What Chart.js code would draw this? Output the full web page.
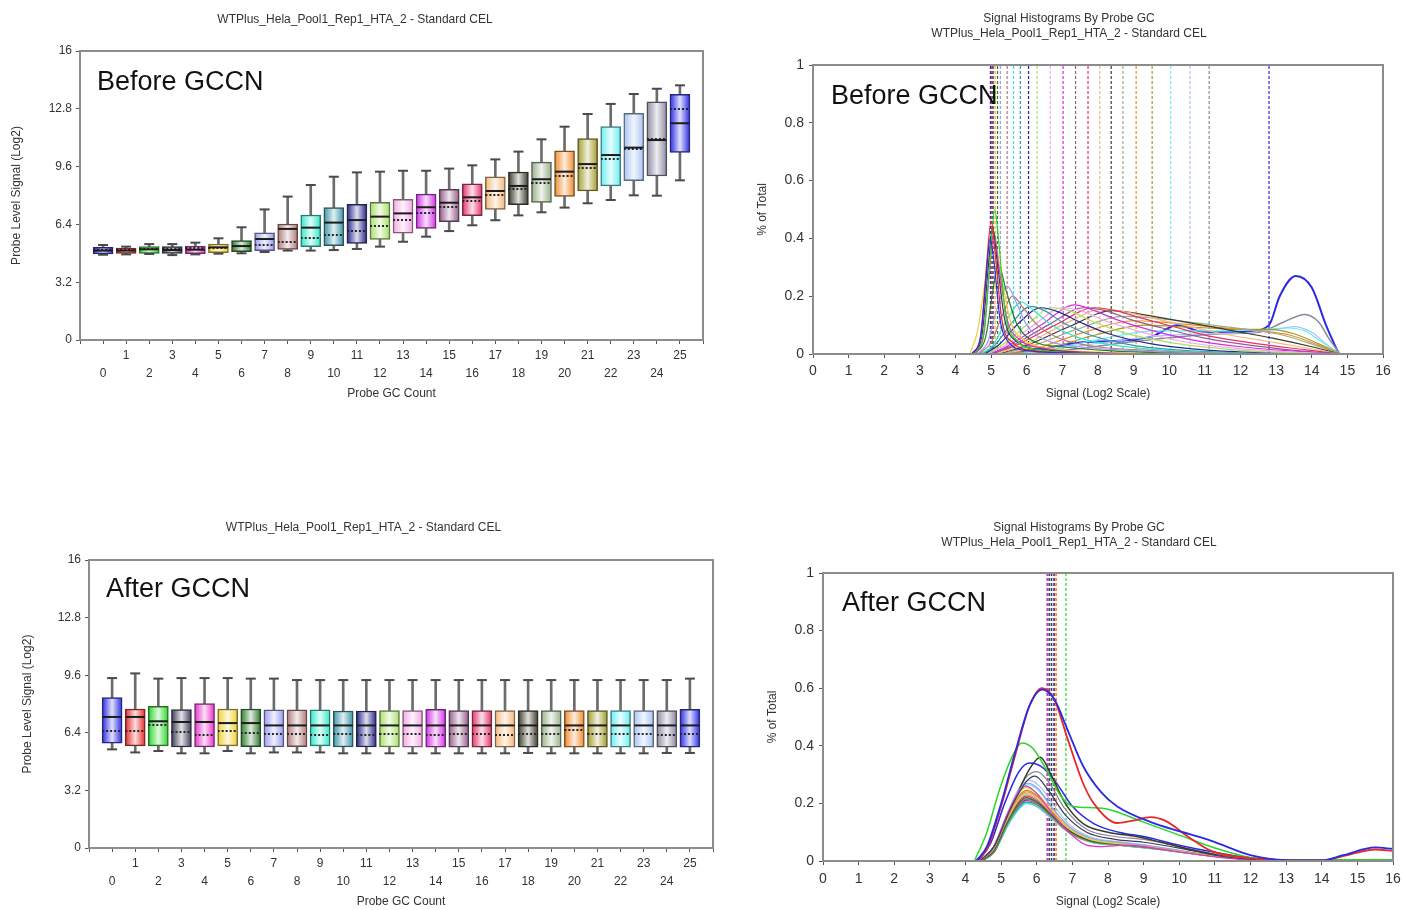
<!DOCTYPE html>
<html><head><meta charset="utf-8">
<script src="https://cdn.jsdelivr.net/npm/chart.js@4.4.1/dist/chart.umd.min.js"></script>
<style>
html,body{margin:0;padding:0;background:#fff;width:1403px;height:910px;overflow:hidden;position:relative;}
canvas{position:absolute;}
</style></head><body>
<canvas id="c1" width="703" height="410" style="left:7px;top:0px"></canvas>
<canvas id="c2" width="648" height="410" style="left:755px;top:0px"></canvas>
<canvas id="c3" width="713" height="410" style="left:14px;top:500px"></canvas>
<canvas id="c4" width="642" height="410" style="left:765px;top:500px"></canvas>
<script>
// ---------- data ----------
const gcCounts = [0,1,2,3,4,5,6,7,8,9,10,11,12,13,14,15,16,17,18,19,20,21,22,23,24,25];
const boxXTicks = [-1,0,1,2,3,4,5,6,7,8,9,10,11,12,13,14,15,16,17,18,19,20,21,22,23,24,25,26];
const boxYTicks = [0,3.2,6.4,9.6,12.8,16];
const histXTicks = [0,1,2,3,4,5,6,7,8,9,10,11,12,13,14,15,16];
const histYTicks = [0,0.2,0.4,0.6,0.8,1];

const beforeLow    = [4.72,4.74,4.76,4.70,4.74,4.78,4.80,4.87,4.95,4.95,4.98,5.04,5.17,5.44,5.72,6.03,6.35,6.63,6.90,7.07,7.33,7.57,7.75,8.01,7.99,8.84];
const beforeQ1     = [4.76,4.80,4.80,4.80,4.78,4.83,4.89,4.95,5.02,5.17,5.22,5.35,5.57,5.91,6.18,6.55,6.88,7.23,7.49,7.62,7.95,8.25,8.53,8.82,9.08,10.39];
const beforeMedian = [4.95,4.95,5.02,4.98,5.00,5.13,5.20,5.59,6.15,6.22,6.50,6.64,6.83,7.01,7.35,7.60,7.90,8.25,8.53,8.90,9.32,9.74,10.24,10.65,11.07,12.00];
const beforeMean   = [4.98,5.00,5.02,5.04,5.07,5.12,5.18,5.26,5.45,5.63,5.82,6.05,6.29,6.66,7.02,7.37,7.72,8.05,8.37,8.70,9.07,9.52,10.04,10.58,11.12,12.80];
const beforeQ3     = [5.13,5.09,5.17,5.17,5.20,5.31,5.50,5.94,6.42,6.92,7.33,7.51,7.62,7.79,8.08,8.34,8.64,9.04,9.30,9.85,10.48,11.15,11.81,12.55,13.18,13.60];
const beforeHigh   = [5.26,5.17,5.31,5.31,5.39,5.63,6.24,7.23,7.94,8.58,9.04,9.28,9.32,9.37,9.37,9.49,9.67,10.00,10.43,11.11,11.81,12.51,13.07,13.62,13.91,14.10];

const afterLow    = [5.48,5.31,5.39,5.26,5.26,5.39,5.26,5.31,5.31,5.31,5.26,5.26,5.26,5.26,5.26,5.26,5.26,5.26,5.28,5.26,5.26,5.26,5.26,5.26,5.28,5.28];
const afterQ1     = [5.82,5.67,5.67,5.61,5.61,5.67,5.63,5.61,5.63,5.67,5.61,5.61,5.61,5.60,5.60,5.60,5.60,5.60,5.60,5.60,5.60,5.60,5.60,5.60,5.60,5.60];
const afterMedian = [7.28,7.28,7.04,7.00,7.00,6.94,6.94,6.81,6.81,6.81,6.81,6.81,6.81,6.81,6.81,6.81,6.81,6.81,6.81,6.81,6.81,6.81,6.81,6.81,6.81,6.81];
const afterMean   = [6.48,6.50,6.82,6.42,6.30,6.52,6.41,6.31,6.33,6.30,6.31,6.30,6.31,6.32,6.30,6.33,6.31,6.30,6.34,6.31,6.55,6.32,6.31,6.33,6.30,6.36];
const afterQ3     = [8.35,7.72,7.87,7.69,8.02,7.72,7.72,7.67,7.67,7.67,7.61,7.61,7.63,7.63,7.70,7.63,7.63,7.63,7.63,7.63,7.63,7.63,7.63,7.63,7.63,7.70];
const afterHigh   = [9.44,9.70,9.41,9.44,9.44,9.44,9.41,9.41,9.33,9.33,9.33,9.33,9.33,9.33,9.33,9.33,9.33,9.33,9.33,9.33,9.33,9.33,9.33,9.33,9.33,9.41];

// signal histograms before GCCN: [signal, fraction]
const hb0  = [[4.45,0],[4.7,0.06],[4.85,0.25],[4.97,0.40],[5.08,0.32],[5.25,0.12],[5.5,0.04],[6.0,0.012],[7.0,0.004],[8.0,0]];
const hb1  = [[4.5,0],[4.72,0.07],[4.88,0.32],[5.0,0.46],[5.12,0.34],[5.3,0.12],[5.6,0.04],[6.2,0.012],[7.5,0.003],[9.0,0]];
const hb2  = [[4.55,0],[4.8,0.08],[4.97,0.32],[5.1,0.50],[5.22,0.38],[5.4,0.14],[5.7,0.05],[6.3,0.015],[7.5,0.004],[9.0,0]];
const hb3  = [[4.5,0],[4.75,0.07],[4.92,0.30],[5.04,0.44],[5.17,0.32],[5.38,0.12],[5.7,0.045],[6.5,0.015],[8.0,0.003],[9.5,0]];
const hb4  = [[4.55,0],[4.8,0.07],[4.95,0.28],[5.08,0.42],[5.22,0.30],[5.45,0.12],[5.8,0.05],[6.5,0.02],[8.0,0.005],[10.0,0]];
const hb5  = [[4.4,0],[4.62,0.08],[4.9,0.30],[5.1,0.38],[5.3,0.26],[5.55,0.11],[5.9,0.05],[6.7,0.02],[8.5,0.005],[10.0,0]];
const hb6  = [[4.55,0],[4.85,0.06],[5.05,0.22],[5.2,0.31],[5.42,0.22],[5.7,0.11],[6.1,0.05],[7.0,0.025],[8.5,0.01],[10.0,0.003],[11.0,0]];
const hb7  = [[4.6,0],[4.9,0.04],[5.15,0.15],[5.45,0.235],[5.7,0.18],[6.0,0.10],[6.5,0.05],[7.5,0.025],[9.0,0.012],[10.5,0.004],[12.0,0]];
const hb8  = [[4.65,0],[5.0,0.04],[5.3,0.13],[5.6,0.20],[5.9,0.16],[6.3,0.10],[7.0,0.05],[8.0,0.025],[9.5,0.012],[11.0,0.004],[12.5,0]];
const hb9  = [[4.7,0],[5.05,0.03],[5.45,0.12],[5.85,0.18],[6.2,0.15],[6.7,0.10],[7.5,0.055],[8.5,0.03],[10.0,0.012],[11.5,0.004],[13.0,0]];
const hb10 = [[4.75,0],[5.1,0.03],[5.6,0.11],[6.1,0.165],[6.5,0.15],[7.0,0.11],[7.8,0.065],[9.0,0.03],[10.5,0.012],[12.0,0.004],[13.5,0]];
const hb11 = [[4.8,0],[5.2,0.03],[5.8,0.11],[6.4,0.16],[6.9,0.145],[7.5,0.11],[8.3,0.07],[9.5,0.035],[11.0,0.014],[12.5,0.004],[14.0,0]];
const hb12 = [[4.85,0],[5.3,0.03],[6.0,0.10],[6.7,0.16],[7.2,0.15],[7.8,0.115],[8.7,0.075],[10.0,0.04],[11.5,0.018],[13.0,0.006],[14.5,0]];
const hb13 = [[4.9,0],[5.4,0.03],[6.2,0.10],[7.0,0.16],[7.5,0.15],[8.2,0.115],[9.1,0.08],[10.3,0.045],[11.8,0.02],[13.2,0.008],[14.7,0]];
const hb14 = [[4.95,0],[5.5,0.03],[6.4,0.10],[7.35,0.17],[7.9,0.15],[8.5,0.12],[9.4,0.085],[10.6,0.05],[12.0,0.025],[13.5,0.01],[14.8,0]];
const hb15 = [[5.0,0],[5.6,0.03],[6.6,0.10],[7.6,0.16],[8.2,0.15],[8.9,0.12],[9.8,0.09],[11.0,0.055],[12.3,0.03],[13.6,0.012],[14.8,0]];
const hb16 = [[5.0,0],[5.7,0.03],[6.8,0.10],[7.9,0.16],[8.5,0.15],[9.2,0.125],[10.1,0.095],[11.2,0.06],[12.5,0.035],[13.8,0.015],[14.8,0]];
const hb17 = [[5.1,0],[5.9,0.03],[7.0,0.10],[8.15,0.155],[8.8,0.145],[9.5,0.125],[10.4,0.10],[11.5,0.07],[12.7,0.045],[13.9,0.02],[14.8,0]];
const hb18 = [[5.2,0],[6.0,0.03],[7.2,0.095],[8.4,0.15],[9.1,0.14],[9.8,0.125],[10.7,0.105],[11.8,0.08],[12.9,0.055],[14.0,0.025],[14.8,0]];
const hb19 = [[5.3,0],[6.2,0.03],[7.4,0.085],[8.7,0.13],[9.5,0.125],[10.3,0.115],[11.2,0.10],[12.2,0.085],[13.2,0.065],[14.1,0.03],[14.8,0]];
const hb20 = [[5.4,0],[6.4,0.025],[7.6,0.075],[9.0,0.115],[9.8,0.11],[10.7,0.10],[11.6,0.09],[12.5,0.08],[13.4,0.065],[14.2,0.03],[14.8,0]];
const hb21 = [[5.5,0],[6.6,0.02],[7.9,0.065],[9.3,0.10],[10.2,0.095],[11.1,0.09],[12.0,0.085],[12.8,0.085],[13.5,0.07],[14.2,0.035],[14.8,0]];
const hb22 = [[5.6,0],[6.8,0.02],[8.2,0.055],[9.6,0.08],[10.6,0.08],[11.6,0.08],[12.6,0.085],[13.3,0.09],[13.8,0.08],[14.3,0.04],[14.8,0]];
const hb23 = [[5.7,0],[7.0,0.02],[8.5,0.045],[10.0,0.065],[11.2,0.07],[12.3,0.075],[13.0,0.085],[13.5,0.095],[14.0,0.075],[14.4,0.035],[14.8,0]];
const hb24 = [[5.8,0],[7.2,0.015],[8.8,0.04],[10.3,0.06],[11.5,0.07],[12.5,0.075],[13.2,0.11],[13.8,0.137],[14.2,0.11],[14.5,0.05],[14.8,0]];
const hb25 = [[5.5,0],[6.5,0.02],[7.5,0.04],[8.5,0.045],[9.5,0.06],[10.25,0.10],[10.8,0.08],[11.5,0.075],[12.3,0.08],[12.8,0.10],[13.1,0.20],[13.55,0.27],[14.0,0.23],[14.4,0.10],[14.76,0]];

// signal histograms after GCCN: [signal, fraction]
const ha0  = [[4.3,0],[4.6,0.05],[5.0,0.2],[5.4,0.38],[5.8,0.54],[6.15,0.595],[6.5,0.56],[6.85,0.46],[7.3,0.33],[7.8,0.24],[8.25,0.19],[9.2,0.135],[10.1,0.10],[10.9,0.07],[12.0,0.02],[13.0,0.003],[14.0,0.002],[14.6,0.02],[15.5,0.047],[16,0.042]];
const ha1  = [[4.3,0],[4.6,0.04],[5.0,0.19],[5.4,0.37],[5.8,0.54],[6.15,0.60],[6.5,0.56],[6.85,0.43],[7.3,0.27],[7.6,0.20],[8.25,0.132],[8.7,0.14],[9.2,0.152],[9.6,0.14],[10.3,0.08],[10.9,0.035],[12.0,0.01],[13.0,0.002],[14.0,0.002],[14.6,0.017],[15.5,0.04],[16,0.035]];
const ha2  = [[4.25,0],[4.6,0.10],[4.96,0.25],[5.3,0.36],[5.58,0.41],[5.9,0.39],[6.3,0.31],[6.65,0.23],[7.0,0.19],[7.6,0.185],[8.0,0.18],[9.0,0.135],[10.0,0.09],[11.0,0.045],[12.0,0.012],[13.0,0.004],[16,0.004]];
const ha3  = [[4.4,0],[4.8,0.05],[5.3,0.19],[5.7,0.275],[5.95,0.295],[6.3,0.25],[6.8,0.16],[7.4,0.10],[8.2,0.075],[9.0,0.065],[10.0,0.045],[11.0,0.02],[12.0,0.006],[13.0,0]];
const ha4  = [[4.4,0],[4.75,0.04],[5.2,0.17],[5.5,0.24],[5.7,0.26],[6.0,0.235],[6.4,0.17],[6.9,0.10],[7.4,0.055],[7.8,0.05],[8.5,0.055],[9.3,0.045],[10.2,0.028],[11.2,0.012],[12.2,0.003],[13.2,0]];
const ha5  = [[4.4,0],[4.75,0.04],[5.2,0.16],[5.5,0.235],[5.7,0.255],[6.0,0.235],[6.4,0.18],[6.9,0.115],[7.5,0.075],[8.3,0.06],[9.2,0.048],[10.2,0.03],[11.2,0.014],[12.2,0.004],[13.2,0]];
const ha6  = [[4.45,0],[4.8,0.035],[5.2,0.14],[5.5,0.20],[5.7,0.22],[6.0,0.205],[6.4,0.16],[6.9,0.105],[7.5,0.07],[8.3,0.058],[9.2,0.046],[10.2,0.03],[11.2,0.014],[12.2,0.004],[13.2,0]];
const ha7  = [[4.4,0],[4.75,0.04],[5.2,0.17],[5.5,0.245],[5.75,0.27],[6.05,0.25],[6.4,0.19],[6.9,0.12],[7.5,0.08],[8.3,0.065],[9.2,0.052],[10.2,0.032],[11.2,0.015],[12.2,0.004],[13.2,0]];
const ha8  = [[4.45,0],[4.8,0.03],[5.2,0.135],[5.5,0.195],[5.7,0.215],[6.0,0.20],[6.4,0.155],[6.9,0.10],[7.5,0.068],[8.3,0.056],[9.2,0.045],[10.2,0.029],[11.2,0.013],[12.2,0.004],[13.2,0]];
const ha9  = [[4.45,0],[4.8,0.03],[5.2,0.125],[5.5,0.18],[5.7,0.20],[6.0,0.19],[6.4,0.15],[6.9,0.10],[7.5,0.066],[8.3,0.054],[9.2,0.044],[10.2,0.028],[11.2,0.013],[12.2,0.004],[13.2,0]];
const ha10 = [[4.45,0],[4.8,0.03],[5.2,0.13],[5.5,0.185],[5.7,0.205],[6.0,0.195],[6.4,0.152],[6.9,0.10],[7.5,0.067],[8.3,0.055],[9.2,0.044],[10.2,0.028],[11.2,0.013],[12.2,0.004],[13.2,0]];
const ha11 = [[4.45,0],[4.8,0.032],[5.2,0.135],[5.5,0.195],[5.75,0.215],[6.05,0.20],[6.4,0.158],[6.9,0.105],[7.5,0.07],[8.3,0.057],[9.2,0.046],[10.2,0.03],[11.2,0.014],[12.2,0.004],[13.2,0]];
const ha12 = [[4.45,0],[4.8,0.03],[5.2,0.13],[5.5,0.185],[5.7,0.205],[6.0,0.195],[6.4,0.15],[6.9,0.10],[7.5,0.066],[8.3,0.055],[9.2,0.044],[10.2,0.028],[11.2,0.013],[12.2,0.004],[13.2,0]];
const ha13 = [[4.45,0],[4.8,0.03],[5.2,0.125],[5.5,0.18],[5.7,0.20],[6.0,0.188],[6.4,0.148],[6.9,0.098],[7.5,0.065],[8.3,0.054],[9.2,0.043],[10.2,0.027],[11.2,0.012],[12.2,0.004],[13.2,0]];
const ha14 = [[4.45,0],[4.8,0.032],[5.2,0.13],[5.5,0.19],[5.7,0.21],[6.0,0.198],[6.4,0.155],[6.9,0.102],[7.5,0.068],[8.3,0.056],[9.2,0.045],[10.2,0.029],[11.2,0.013],[12.2,0.004],[13.2,0]];
const ha15 = [[4.45,0],[4.8,0.032],[5.2,0.13],[5.5,0.19],[5.72,0.21],[6.0,0.198],[6.4,0.155],[6.9,0.102],[7.5,0.068],[8.3,0.056],[9.2,0.045],[10.2,0.029],[11.2,0.013],[12.2,0.004],[13.2,0]];
const ha16 = [[4.45,0],[4.8,0.034],[5.2,0.14],[5.5,0.205],[5.72,0.225],[6.0,0.21],[6.4,0.162],[6.9,0.106],[7.5,0.07],[8.3,0.058],[9.2,0.046],[10.2,0.03],[11.2,0.014],[12.2,0.004],[13.2,0]];
const ha17 = [[4.42,0],[4.78,0.036],[5.2,0.148],[5.5,0.215],[5.72,0.235],[6.02,0.218],[6.4,0.168],[6.9,0.11],[7.5,0.072],[8.3,0.059],[9.2,0.047],[10.2,0.03],[11.2,0.014],[12.2,0.004],[13.2,0]];
const ha18 = [[4.4,0],[4.8,0.05],[5.3,0.19],[5.8,0.32],[6.1,0.36],[6.4,0.30],[6.8,0.20],[7.3,0.13],[8.0,0.10],[8.8,0.085],[9.5,0.065],[10.5,0.035],[11.5,0.012],[12.5,0.003],[13.5,0]];
const ha19 = [[4.42,0],[4.78,0.035],[5.2,0.145],[5.5,0.21],[5.72,0.23],[6.02,0.214],[6.4,0.165],[6.9,0.108],[7.5,0.071],[8.3,0.058],[9.2,0.047],[10.2,0.03],[11.2,0.014],[12.2,0.004],[13.2,0]];
const ha20 = [[4.42,0],[4.78,0.037],[5.2,0.15],[5.5,0.22],[5.72,0.24],[6.02,0.222],[6.4,0.17],[6.9,0.112],[7.5,0.073],[8.3,0.06],[9.2,0.048],[10.2,0.031],[11.2,0.014],[12.2,0.004],[13.2,0]];
const ha21 = [[4.42,0],[4.78,0.038],[5.2,0.154],[5.5,0.225],[5.72,0.245],[6.02,0.226],[6.4,0.174],[6.9,0.114],[7.5,0.074],[8.3,0.06],[9.2,0.048],[10.2,0.031],[11.2,0.014],[12.2,0.004],[13.2,0]];
const ha22 = [[4.4,0],[4.75,0.04],[5.2,0.165],[5.5,0.24],[5.75,0.265],[6.05,0.245],[6.4,0.188],[6.9,0.12],[7.5,0.08],[8.3,0.064],[9.2,0.051],[10.2,0.032],[11.2,0.015],[12.2,0.004],[13.2,0]];
const ha23 = [[4.4,0],[4.75,0.042],[5.2,0.172],[5.5,0.252],[5.78,0.28],[6.08,0.26],[6.45,0.198],[6.9,0.128],[7.5,0.084],[8.3,0.067],[9.2,0.053],[10.2,0.033],[11.2,0.015],[12.2,0.004],[13.2,0]];
const ha24 = [[4.4,0],[4.8,0.05],[5.3,0.20],[5.7,0.29],[6.0,0.31],[6.3,0.28],[6.8,0.18],[7.4,0.11],[8.2,0.085],[9.0,0.075],[10.0,0.05],[11.0,0.025],[12.0,0.008],[13.0,0]];
const ha25 = [[4.35,0],[4.7,0.06],[5.1,0.20],[5.5,0.31],[5.8,0.34],[6.1,0.33],[6.5,0.28],[7.0,0.19],[7.6,0.13],[8.3,0.10],[9.0,0.085],[10.0,0.055],[11.0,0.03],[12.0,0.01],[13.0,0.002],[14.0,0]];

const beforeCurves = [hb0,hb1,hb2,hb3,hb4,hb5,hb6,hb7,hb8,hb9,hb10,hb11,hb12,hb13,hb14,hb15,hb16,hb17,hb18,hb19,hb20,hb21,hb22,hb23,hb24,hb25];
const afterCurves  = [ha0,ha1,ha2,ha3,ha4,ha5,ha6,ha7,ha8,ha9,ha10,ha11,ha12,ha13,ha14,ha15,ha16,ha17,ha18,ha19,ha20,ha21,ha22,ha23,ha24,ha25];

const palette = ['#2a2ae6','#e62a2a','#2ad62a','#3c3c5a','#e632c8','#f0d030','#2a7a2a','#9a9af0','#b07a7a','#30e8c8','#3a94a8','#26268a','#a8e068','#f4a8e4','#d22ee6','#945a8a','#e6306a','#f4b878','#3a3a2a','#98b088','#f08a2a','#a09a2a','#68eef0','#a8c4f4','#8a88a0','#2a2ae6'];

// ---------- helpers ----------
const FONT = "'Liberation Sans', Arial, sans-serif";
const NARROW = "'Liberation Sans Narrow', 'Arial Narrow', 'Liberation Sans', sans-serif";
const TXT = '#333333';

function mix(a, b, t) {
  const pa = parseInt(a.slice(1), 16), pb = parseInt(b.slice(1), 16);
  const ch = s => Math.round(((pa >> s) & 255) * (1 - t) + ((pb >> s) & 255) * t);
  return 'rgb(' + ch(16) + ',' + ch(8) + ',' + ch(0) + ')';
}

const dotted = document.createElement('canvas');
dotted.width = 20; dotted.height = 2;
(function(){ const c = dotted.getContext('2d'); c.fillStyle = '#262626'; for (let x = 0; x < 20; x += 4) c.fillRect(x, 0, 2, 2); })();

function framePlugin(label, dx, dy) {
  return {
    id: 'frameLabel',
    afterDraw(chart) {
      const a = chart.chartArea, ctx = chart.ctx;
      ctx.save();
      ctx.strokeStyle = '#8c8c8c'; ctx.lineWidth = 2;
      ctx.strokeRect(a.left, a.top, a.right - a.left, a.bottom - a.top);
      ctx.font = '27px ' + FONT; ctx.fillStyle = '#111'; ctx.textBaseline = 'middle'; ctx.textAlign = 'left';
      ctx.fillText(label, a.left + dx, a.top + dy);
      ctx.restore();
    }
  };
}

function boxFill(c) {
  const col = palette[c.dataIndex] || palette[0];
  const xs = c.chart.scales && c.chart.scales.x;
  if (c.type !== 'data' || !xs) return col;
  const xc = xs.getPixelForValue(gcCounts[c.dataIndex]);
  if (!isFinite(xc)) return col;
  const g = c.chart.ctx.createLinearGradient(xc - 10, 0, xc + 10, 0);
  g.addColorStop(0, col);
  g.addColorStop(0.5, mix(col, '#ffffff', 0.85));
  g.addColorStop(1, col);
  return g;
}

function boxChart(o) {
  const pts = arr => gcCounts.map((g, i) => ({x: g, y: arr[i]}));
  return new Chart(document.getElementById(o.id), {
    type: 'bar',
    data: { datasets: [
      { data: gcCounts.map((g, i) => ({x: g, y: [o.low[i], o.high[i]]})), backgroundColor: '#6c6c6c', borderWidth: 0, barThickness: 2, maxBarThickness: 2, grouped: false, order: 5 },
      { data: gcCounts.map((g, i) => ({x: g, y: [o.q1[i], o.q3[i]]})), backgroundColor: boxFill,
        borderColor: gcCounts.map(i => mix(palette[i], '#202020', 0.55)), borderWidth: 1.5, borderSkipped: false,
        barThickness: 20, maxBarThickness: 20, grouped: false, order: 4 },
      { type: 'scatter', data: pts(o.high), pointStyle: 'line', pointRadius: 5, pointBorderWidth: 2, pointBorderColor: '#4a4a4a', order: 3 },
      { type: 'scatter', data: pts(o.low), pointStyle: 'line', pointRadius: 5, pointBorderWidth: 2, pointBorderColor: '#4a4a4a', order: 2 },
      { type: 'scatter', data: pts(o.mean), pointStyle: dotted, pointRadius: 10, order: 1 },
      { type: 'scatter', data: pts(o.med), pointStyle: 'line', pointRadius: 9.5, pointBorderWidth: 2, pointBorderColor: '#1c1c1c', order: 0 }
    ]},
    options: {
      responsive: false, animation: false, events: [],
      layout: { autoPadding: false, padding: { top: 0, left: 0, right: o.padR, bottom: 0 } },
      plugins: {
        legend: { display: false }, tooltip: { enabled: false },
        title: { display: true, text: 'WTPlus_Hela_Pool1_Rep1_HTA_2 - Standard CEL', color: TXT,
                 font: { size: 12, family: FONT, weight: 'normal' }, padding: { top: o.titleTop, bottom: o.titleBottom } }
      },
      scales: {
        x: { type: 'linear', min: -1, max: 26, offset: false,
             afterBuildTicks: s => { s.ticks = boxXTicks.map(v => ({value: v})); },
             afterFit: s => { s.height = o.xHeight; },
             ticks: { autoSkip: false, maxRotation: 0, minRotation: 0, padding: 3, color: TXT,
                      font: { size: 12, family: NARROW, lineHeight: 1.5 },
                      callback: v => (v < 0 || v > 25) ? '' : (v % 2 === 0 ? ['', String(v)] : String(v)) },
             grid: { drawOnChartArea: false, offset: false, tickLength: 4, color: '#555' },
             border: { color: '#8c8c8c', width: 1 },
             title: { display: true, text: 'Probe GC Count', color: TXT, font: { size: 12, family: FONT }, padding: { top: 0, bottom: o.xTitlePad } } },
        y: { min: 0, max: 16,
             afterBuildTicks: s => { s.ticks = boxYTicks.map(v => ({value: v})); },
             afterFit: s => { s.width = o.yWidth; },
             ticks: { padding: 4, color: TXT, font: { size: 12, family: FONT }, callback: v => String(+v.toFixed(1)) },
             grid: { drawOnChartArea: false, tickLength: 4, color: '#555' },
             border: { color: '#8c8c8c', width: 1 },
             title: { display: true, text: 'Probe Level Signal (Log2)', color: TXT, font: { size: 12, family: FONT }, padding: { top: o.yTitlePad, bottom: 0 } } }
      }
    },
    plugins: [framePlugin(o.label, o.dx, o.dy)]
  });
}

function histChart(o) {
  const datasets = [];
  o.curves.forEach((c, i) => datasets.push({ data: c.map(p => ({x: p[0], y: p[1]})), showLine: true,
    borderColor: palette[i], borderWidth: o.widths[i] || 1.2, pointRadius: 0, cubicInterpolationMode: 'monotone', order: 1 }));
  o.means.forEach((m, i) => datasets.push({ data: [{x: m, y: 0}, {x: m, y: 1}], showLine: true,
    borderColor: palette[i], borderWidth: 1.2, borderDash: [3, 2], pointRadius: 0, order: 2 }));
  return new Chart(document.getElementById(o.id), {
    type: 'scatter',
    data: { datasets },
    options: {
      responsive: false, animation: false, events: [],
      layout: { autoPadding: false, padding: { top: 0, left: 0, right: o.padR, bottom: 0 } },
      plugins: {
        legend: { display: false }, tooltip: { enabled: false },
        title: { display: true, text: ['Signal Histograms By Probe GC', 'WTPlus_Hela_Pool1_Rep1_HTA_2 - Standard CEL'], color: TXT,
                 font: { size: 12, family: FONT, weight: 'normal', lineHeight: 1.2 }, padding: { top: o.titleTop, bottom: o.titleBottom } }
      },
      scales: {
        x: { type: 'linear', min: 0, max: 16,
             afterBuildTicks: s => { s.ticks = histXTicks.map(v => ({value: v})); },
             afterFit: s => { s.height = o.xHeight; },
             ticks: { autoSkip: false, maxRotation: 0, padding: o.xTickPad, color: TXT, font: { size: 14, family: FONT } },
             grid: { drawOnChartArea: false, tickLength: 4, color: '#555' },
             border: { color: '#8c8c8c', width: 1 },
             title: { display: true, text: 'Signal (Log2 Scale)', color: TXT, font: { size: 12, family: FONT }, padding: { top: 0, bottom: o.xTitlePad } } },
        y: { type: 'linear', min: 0, max: 1,
             afterBuildTicks: s => { s.ticks = histYTicks.map(v => ({value: v})); },
             afterFit: s => { s.width = o.yWidth; },
             ticks: { padding: 5, color: TXT, font: { size: 14, family: FONT }, callback: v => String(+v.toFixed(1)) },
             grid: { drawOnChartArea: false, tickLength: 4, color: '#555' },
             border: { color: '#8c8c8c', width: 1 },
             title: { display: true, text: '% of Total', color: TXT, font: { size: 12, family: FONT }, padding: { top: o.yTitlePad, bottom: 0 } } }
      }
    },
    plugins: [framePlugin(o.label, o.dx, o.dy)]
  });
}

const wBefore = gcCounts.map(i => i === 25 ? 2 : (i === 24 ? 1.5 : 1.2));
const wAfter = gcCounts.map(i => (i <= 1) ? 1.8 : (i === 2 || i === 25 || i === 18) ? 1.5 : 1.2);

boxChart({ id: 'c1', low: beforeLow, q1: beforeQ1, med: beforeMedian, mean: beforeMean, q3: beforeQ3, high: beforeHigh,
  label: 'Before GCCN', dx: 17, dy: 32, padR: 7, titleTop: 12, titleBottom: 24.6, xHeight: 70, xTitlePad: 8.8, yWidth: 73, yTitlePad: 2.8 });
histChart({ id: 'c2', curves: beforeCurves, means: beforeMean, widths: wBefore,
  label: 'Before GCCN', dx: 18, dy: 32, padR: 20, titleTop: 11.8, titleBottom: 24.4, xHeight: 56, xTickPad: 4.6, xTitlePad: 8.8, yWidth: 58, yTitlePad: 0 });
boxChart({ id: 'c3', low: afterLow, q1: afterQ1, med: afterMedian, mean: afterMean, q3: afterQ3, high: afterHigh,
  label: 'After GCCN', dx: 17, dy: 30, padR: 14, titleTop: 20.8, titleBottom: 24.8, xHeight: 62, xTitlePad: 0.8, yWidth: 75, yTitlePad: 6.8 });
histChart({ id: 'c4', curves: afterCurves, means: afterMean, widths: wAfter,
  label: 'After GCCN', dx: 19, dy: 31, padR: 14, titleTop: 20.8, titleBottom: 23.4, xHeight: 49, xTickPad: 5.6, xTitlePad: 0.8, yWidth: 58, yTitlePad: 0 });
</script>
</body></html>
